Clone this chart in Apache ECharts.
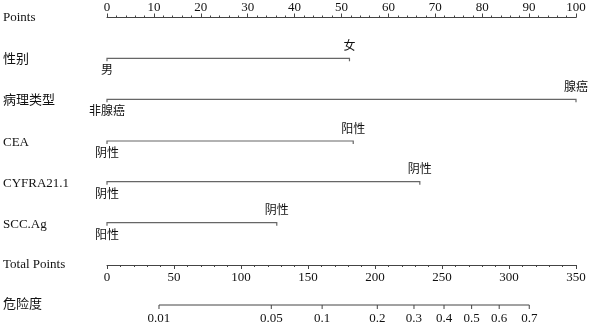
<!DOCTYPE html>
<html>
<head>
<meta charset="utf-8">
<script src="https://cdn.jsdelivr.net/npm/echarts@6/dist/echarts.min.js"></script>
<style>html,body{margin:0;padding:0;background:#fff}#c{width:589px;height:323px}</style>
</head>
<body>
<div id="c"></div>
<script>
// ---- data ----
const rowLabels = ['Points', '性别', '病理类型', 'CEA', 'CYFRA21.1', 'SCC.Ag', 'Total Points', '危险度'];
const variables = ['性别', '病理类型', 'CEA', 'CYFRA21.1', 'SCC.Ag'];
const lowLevels = ['男', '非腺癌', '阴性', '阴性', '阳性'];
const highLevels = ['女', '腺癌', '阳性', '阴性', '阴性'];
const lowPoints = [0, 0, 0, 0, 0];
const highPoints = [51.7, 100, 52.5, 66.7, 36.2];
const pointsRange = [0, 100];
const pointsInterval = 10;
const totalRange = [0, 350];
const totalInterval = 50;
const riskTicks = [0.01, 0.05, 0.1, 0.2, 0.3, 0.4, 0.5, 0.6, 0.7];
const riskTickLabels = ['0.01', '0.05', '0.1', '0.2', '0.3', '0.4', '0.5', '0.6', '0.7'];
// linear predictor: total points = riskIntercept + riskSlope * logit(p)
const riskIntercept = 272.1;
const riskSlope = 50.77;

// ---- layout ----
const FONT = "'Liberation Serif', 'Noto Sans CJK SC', serif";
const rowLabelY = [18, 60, 101, 142.5, 183.5, 224.5, 264.5, 304.5];
const lineY = [58.3, 99.3, 141, 181.7, 222.7];
const riskLineY = 305;
const GL = 107, GR = 13;

function logit(p) { return Math.log(p / (1 - p)); }
function riskToPoints(p) { return riskIntercept + riskSlope * logit(p); }

const chart = echarts.init(document.getElementById('c'), null, {renderer: 'canvas'});

const axisLineStyle = {color: '#444', width: 1};
const tickLabelStyle = {color: '#111', fontFamily: FONT, fontSize: 13};

const option = {
  animation: false,
  backgroundColor: '#fff',
  grid: [
    {left: GL, right: GR, top: 0, bottom: 0},
    {left: GL, right: GR, top: 17.5, height: 20},
    {left: GL, right: GR, top: 245, height: 20}
  ],
  xAxis: [
    {gridIndex: 0, type: 'value', min: pointsRange[0], max: pointsRange[1], show: false},
    {gridIndex: 0, type: 'value', min: totalRange[0], max: totalRange[1], show: false},
    {gridIndex: 1, type: 'value', position: 'top', min: pointsRange[0], max: pointsRange[1], interval: pointsInterval,
      axisLine: {show: true, onZero: false, lineStyle: axisLineStyle},
      axisTick: {show: true, length: 4, lineStyle: axisLineStyle},
      minorTick: {show: true, splitNumber: 5, length: 2, lineStyle: axisLineStyle},
      splitLine: {show: false},
      axisLabel: Object.assign({margin: 3}, tickLabelStyle)},
    {gridIndex: 2, type: 'value', position: 'bottom', min: totalRange[0], max: totalRange[1], interval: totalInterval,
      axisLine: {show: true, onZero: false, lineStyle: axisLineStyle},
      axisTick: {show: true, length: 4, lineStyle: axisLineStyle},
      minorTick: {show: true, splitNumber: 5, length: 2, lineStyle: axisLineStyle},
      splitLine: {show: false},
      axisLabel: Object.assign({margin: 6}, tickLabelStyle)}
  ],
  yAxis: [
    {gridIndex: 0, type: 'value', min: 0, max: 323, inverse: true, show: false},
    {gridIndex: 1, type: 'value', min: 0, max: 1, show: false},
    {gridIndex: 2, type: 'value', min: 0, max: 1, show: false}
  ],
  graphic: rowLabels.map((t, i) => ({
    type: 'text', x: 3, y: rowLabelY[i],
    style: {text: t, fill: '#111', font: '13px ' + FONT, verticalAlign: 'middle'}
  })),
  series: [
    {
      type: 'custom', xAxisIndex: 0, yAxisIndex: 0, clip: false,
      data: variables.map((v, i) => [lowPoints[i], highPoints[i], i]),
      renderItem: function (params, api) {
        const i = api.value(2);
        const y = lineY[i];
        const x0 = api.coord([api.value(0), 0])[0];
        const x1 = api.coord([api.value(1), 0])[0];
        return {
          type: 'group',
          children: [
            {type: 'polyline', shape: {points: [[x0, y + 3], [x0, y], [x1, y], [x1, y + 3]]},
              style: {stroke: '#666', lineWidth: 1.2, fill: null}},
            {type: 'text', x: x0, y: y + 13,
              style: {text: lowLevels[i], fill: '#111', font: '12px ' + FONT, align: 'center', verticalAlign: 'middle'}},
            {type: 'text', x: x1, y: y - 11.5,
              style: {text: highLevels[i], fill: '#111', font: '12px ' + FONT, align: 'center', verticalAlign: 'middle'}}
          ]
        };
      }
    },
    {
      type: 'custom', xAxisIndex: 1, yAxisIndex: 0, clip: false,
      data: riskTicks.map((p, i) => [riskToPoints(p), i]),
      renderItem: function (params, api) {
        const i = api.value(1);
        const x = api.coord([api.value(0), 0])[0];
        const children = [
          {type: 'line', shape: {x1: x, y1: riskLineY, x2: x, y2: riskLineY + 4}, style: {stroke: '#444', lineWidth: 1}},
          {type: 'text', x: x, y: riskLineY + 13.5,
            style: {text: riskTickLabels[i], fill: '#111', font: '13px ' + FONT, align: 'center', verticalAlign: 'middle'}}
        ];
        if (params.dataIndex === 0) {
          const xa = api.coord([riskToPoints(riskTicks[0]), 0])[0];
          const xb = api.coord([riskToPoints(riskTicks[riskTicks.length - 1]), 0])[0];
          children.push({type: 'line', shape: {x1: xa, y1: riskLineY, x2: xb, y2: riskLineY}, style: {stroke: '#444', lineWidth: 1}});
        }
        return {type: 'group', children: children};
      }
    }
  ]
};
chart.setOption(option);
</script>
</body>
</html>
